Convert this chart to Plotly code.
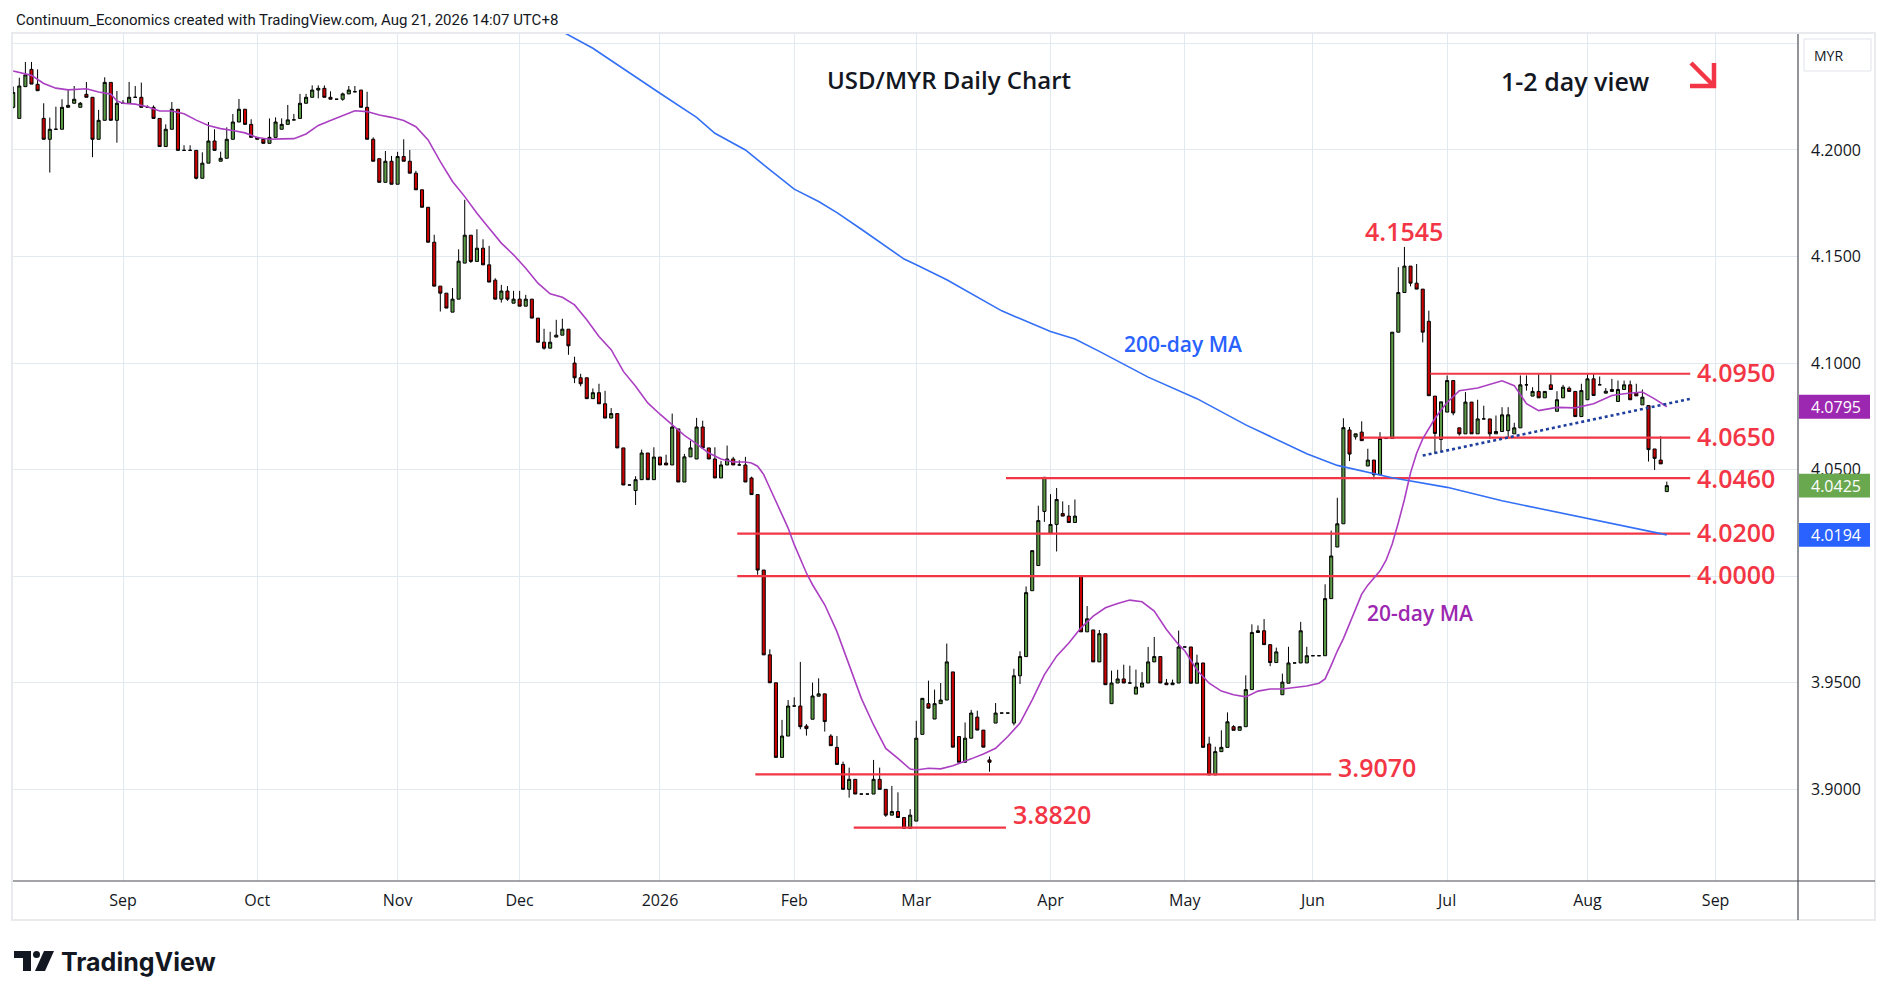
import plotly.graph_objects as go
import pandas as pd

# ---------------- DATA ----------------
# Daily OHLC rows: (date, open, high, low, close)
AUG_2025 = [
    ("2025-08-06", 4.2200, 4.2297, 4.2195, 4.2270), ("2025-08-07", 4.2148, 4.2339, 4.2148, 4.2300),
    ("2025-08-08", 4.2297, 4.2413, 4.2297, 4.2352), ("2025-08-11", 4.2378, 4.2413, 4.2309, 4.2309),
    ("2025-08-12", 4.2308, 4.2378, 4.2278, 4.2278), ("2025-08-13", 4.2148, 4.2219, 4.2050, 4.2050),
    ("2025-08-14", 4.2050, 4.2152, 4.1894, 4.2097), ("2025-08-15", 4.2097, 4.2203, 4.2097, 4.2097),
    ("2025-08-18", 4.2097, 4.2238, 4.2097, 4.2200), ("2025-08-19", 4.2200, 4.2281, 4.2200, 4.2209),
    ("2025-08-20", 4.2219, 4.2300, 4.2219, 4.2238), ("2025-08-21", 4.2200, 4.2225, 4.2200, 4.2219),
    ("2025-08-22", 4.2261, 4.2319, 4.2247, 4.2247), ("2025-08-25", 4.2247, 4.2247, 4.1966, 4.2050),
    ("2025-08-26", 4.2050, 4.2188, 4.2050, 4.2139), ("2025-08-27", 4.2139, 4.2341, 4.2139, 4.2317),
    ("2025-08-28", 4.2317, 4.2317, 4.2139, 4.2139), ("2025-08-29", 4.2139, 4.2277, 4.2034, 4.2219),
]
SEP_2025 = [
    ("2025-09-01", 4.2219, 4.2234, 4.2219, 4.2219), ("2025-09-02", 4.2219, 4.2319, 4.2219, 4.2247),
    ("2025-09-03", 4.2247, 4.2300, 4.2247, 4.2247), ("2025-09-04", 4.2247, 4.2316, 4.2200, 4.2200),
    ("2025-09-05", 4.2200, 4.2209, 4.2200, 4.2200), ("2025-09-08", 4.2200, 4.2209, 4.2148, 4.2148),
    ("2025-09-09", 4.2148, 4.2148, 4.2016, 4.2016), ("2025-09-10", 4.2016, 4.2120, 4.2016, 4.2097),
    ("2025-09-11", 4.2097, 4.2225, 4.2097, 4.2191), ("2025-09-12", 4.2191, 4.2191, 4.1998, 4.1998),
    ("2025-09-15", 4.1998, 4.2022, 4.1998, 4.1998), ("2025-09-16", 4.1998, 4.2022, 4.1998, 4.1998),
    ("2025-09-17", 4.1998, 4.1998, 4.1862, 4.1867), ("2025-09-18", 4.1867, 4.1989, 4.1867, 4.1938),
    ("2025-09-19", 4.1938, 4.2131, 4.1938, 4.2042), ("2025-09-22", 4.2042, 4.2097, 4.1998, 4.1998),
    ("2025-09-23", 4.1947, 4.1992, 4.1947, 4.1961), ("2025-09-24", 4.1961, 4.2106, 4.1961, 4.2050),
    ("2025-09-25", 4.2050, 4.2169, 4.2050, 4.2131), ("2025-09-26", 4.2131, 4.2239, 4.2131, 4.2191),
    ("2025-09-29", 4.2191, 4.2191, 4.2120, 4.2120), ("2025-09-30", 4.2120, 4.2144, 4.2059, 4.2059),
]
OCT_2025 = [
    ("2025-10-01", 4.2059, 4.2059, 4.2050, 4.2050), ("2025-10-02", 4.2050, 4.2050, 4.2031, 4.2031),
    ("2025-10-03", 4.2031, 4.2148, 4.2031, 4.2059), ("2025-10-06", 4.2059, 4.2153, 4.2059, 4.2131),
    ("2025-10-07", 4.2097, 4.2148, 4.2097, 4.2120), ("2025-10-08", 4.2120, 4.2211, 4.2120, 4.2141),
    ("2025-10-09", 4.2141, 4.2169, 4.2141, 4.2141), ("2025-10-10", 4.2148, 4.2263, 4.2148, 4.2219),
    ("2025-10-13", 4.2219, 4.2263, 4.2219, 4.2247), ("2025-10-14", 4.2247, 4.2303, 4.2247, 4.2281),
    ("2025-10-15", 4.2281, 4.2303, 4.2242, 4.2289), ("2025-10-16", 4.2289, 4.2303, 4.2247, 4.2247),
    ("2025-10-17", 4.2247, 4.2275, 4.2238, 4.2238), ("2025-10-20", 4.2238, 4.2238, 4.2238, 4.2238),
    ("2025-10-21", 4.2238, 4.2269, 4.2231, 4.2263), ("2025-10-22", 4.2263, 4.2300, 4.2263, 4.2281),
    ("2025-10-23", 4.2273, 4.2300, 4.2273, 4.2273), ("2025-10-24", 4.2281, 4.2281, 4.2200, 4.2200),
    ("2025-10-27", 4.2200, 4.2273, 4.2050, 4.2050), ("2025-10-28", 4.2050, 4.2059, 4.1947, 4.1947),
    ("2025-10-29", 4.1959, 4.1959, 4.1848, 4.1848), ("2025-10-30", 4.1848, 4.1995, 4.1848, 4.1947),
    ("2025-10-31", 4.1947, 4.1972, 4.1839, 4.1839),
]
NOV_2025 = [
    ("2025-11-03", 4.1839, 4.1991, 4.1839, 4.1969), ("2025-11-04", 4.1969, 4.2050, 4.1947, 4.1947),
    ("2025-11-05", 4.1947, 4.2000, 4.1891, 4.1891), ("2025-11-06", 4.1891, 4.1902, 4.1813, 4.1813),
    ("2025-11-07", 4.1813, 4.1813, 4.1731, 4.1731), ("2025-11-10", 4.1731, 4.1731, 4.1567, 4.1567),
    ("2025-11-11", 4.1567, 4.1602, 4.1361, 4.1361), ("2025-11-12", 4.1361, 4.1361, 4.1242, 4.1328),
    ("2025-11-13", 4.1328, 4.1328, 4.1258, 4.1258), ("2025-11-14", 4.1239, 4.1352, 4.1239, 4.1300),
    ("2025-11-17", 4.1300, 4.1534, 4.1300, 4.1478), ("2025-11-18", 4.1469, 4.1766, 4.1469, 4.1600),
    ("2025-11-19", 4.1600, 4.1600, 4.1470, 4.1477), ("2025-11-20", 4.1477, 4.1628, 4.1477, 4.1539),
    ("2025-11-21", 4.1539, 4.1581, 4.1461, 4.1461), ("2025-11-24", 4.1461, 4.1550, 4.1380, 4.1380),
    ("2025-11-25", 4.1389, 4.1398, 4.1300, 4.1300), ("2025-11-26", 4.1300, 4.1367, 4.1284, 4.1338),
    ("2025-11-27", 4.1338, 4.1361, 4.1292, 4.1300), ("2025-11-28", 4.1281, 4.1339, 4.1281, 4.1300),
]
DEC_2025 = [
    ("2025-12-01", 4.1300, 4.1339, 4.1267, 4.1267), ("2025-12-02", 4.1267, 4.1320, 4.1267, 4.1300),
    ("2025-12-03", 4.1300, 4.1300, 4.1211, 4.1211), ("2025-12-04", 4.1211, 4.1211, 4.1098, 4.1098),
    ("2025-12-05", 4.1098, 4.1161, 4.1063, 4.1070), ("2025-12-08", 4.1070, 4.1147, 4.1070, 4.1098),
    ("2025-12-09", 4.1122, 4.1203, 4.1122, 4.1131), ("2025-12-10", 4.1131, 4.1208, 4.1131, 4.1159),
    ("2025-12-11", 4.1159, 4.1159, 4.1039, 4.1081), ("2025-12-12", 4.1000, 4.1030, 4.0906, 4.0931),
    ("2025-12-15", 4.0931, 4.0950, 4.0891, 4.0903), ("2025-12-16", 4.0931, 4.0931, 4.0833, 4.0833),
    ("2025-12-17", 4.0833, 4.0881, 4.0833, 4.0861), ("2025-12-18", 4.0861, 4.0903, 4.0809, 4.0809),
    ("2025-12-19", 4.0809, 4.0870, 4.0742, 4.0742), ("2025-12-22", 4.0742, 4.0789, 4.0742, 4.0763),
    ("2025-12-23", 4.0763, 4.0763, 4.0602, 4.0602), ("2025-12-24", 4.0602, 4.0602, 4.0428, 4.0428),
    ("2025-12-25", 4.0428, 4.0428, 4.0428, 4.0428), ("2025-12-26", 4.0402, 4.0469, 4.0334, 4.0453),
    ("2025-12-29", 4.0453, 4.0594, 4.0453, 4.0578), ("2025-12-30", 4.0578, 4.0578, 4.0453, 4.0453),
    ("2025-12-31", 4.0453, 4.0605, 4.0453, 4.0559),
]
JAN_2026 = [
    ("2026-01-01", 4.0559, 4.0559, 4.0522, 4.0522), ("2026-01-02", 4.0531, 4.0570, 4.0522, 4.0522),
    ("2026-01-05", 4.0522, 4.0763, 4.0522, 4.0700), ("2026-01-06", 4.0691, 4.0691, 4.0442, 4.0442),
    ("2026-01-07", 4.0442, 4.0574, 4.0442, 4.0560), ("2026-01-08", 4.0560, 4.0636, 4.0560, 4.0602),
    ("2026-01-09", 4.0550, 4.0743, 4.0550, 4.0700), ("2026-01-12", 4.0700, 4.0730, 4.0602, 4.0602),
    ("2026-01-13", 4.0602, 4.0602, 4.0550, 4.0550), ("2026-01-14", 4.0550, 4.0605, 4.0461, 4.0461),
    ("2026-01-15", 4.0461, 4.0541, 4.0461, 4.0522), ("2026-01-16", 4.0522, 4.0613, 4.0522, 4.0550),
    ("2026-01-19", 4.0550, 4.0560, 4.0522, 4.0522), ("2026-01-20", 4.0522, 4.0544, 4.0522, 4.0522),
    ("2026-01-21", 4.0522, 4.0560, 4.0442, 4.0442), ("2026-01-22", 4.0461, 4.0467, 4.0383, 4.0383),
    ("2026-01-23", 4.0383, 4.0383, 4.0007, 4.0029), ("2026-01-26", 4.0029, 4.0029, 3.9631, 3.9631),
    ("2026-01-27", 3.9631, 3.9657, 3.9500, 3.9500), ("2026-01-28", 3.9500, 3.9500, 3.9150, 3.9150),
    ("2026-01-29", 3.9150, 3.9326, 3.9150, 3.9250), ("2026-01-30", 3.9250, 3.9419, 3.9250, 3.9391),
]
FEB_2026 = [
    ("2026-02-02", 3.9391, 3.9432, 3.9391, 3.9391), ("2026-02-03", 3.9391, 3.9598, 3.9282, 3.9294),
    ("2026-02-04", 3.9297, 3.9306, 3.9252, 3.9285), ("2026-02-05", 3.9329, 3.9501, 3.9329, 3.9438),
    ("2026-02-06", 3.9437, 3.9521, 3.9437, 3.9448), ("2026-02-09", 3.9448, 3.9448, 3.9271, 3.9318),
    ("2026-02-10", 3.9250, 3.9259, 3.9205, 3.9205), ("2026-02-11", 3.9197, 3.9250, 3.9117, 3.9117),
    ("2026-02-12", 3.9117, 3.9130, 3.9000, 3.9000), ("2026-02-13", 3.9000, 3.9102, 3.8961, 3.9047),
    ("2026-02-16", 3.9047, 3.9047, 3.8978, 3.8978), ("2026-02-17", 3.8978, 3.8978, 3.8978, 3.8978),
    ("2026-02-18", 3.8978, 3.8978, 3.8978, 3.8978), ("2026-02-19", 3.8978, 3.9138, 3.8978, 3.9047),
    ("2026-02-20", 3.9047, 3.9102, 3.9000, 3.9000), ("2026-02-23", 3.9000, 3.9000, 3.8871, 3.8879),
    ("2026-02-24", 3.8879, 3.9016, 3.8879, 3.8896), ("2026-02-25", 3.8896, 3.8986, 3.8868, 3.8868),
    ("2026-02-26", 3.8868, 3.8868, 3.8817, 3.8817), ("2026-02-27", 3.8817, 3.8907, 3.8817, 3.8879),
]
MAR_2026 = [
    ("2026-03-02", 3.8851, 3.9322, 3.8851, 3.9240), ("2026-03-03", 3.9258, 3.9428, 3.9258, 3.9427),
    ("2026-03-04", 3.9402, 3.9510, 3.9381, 3.9381), ("2026-03-05", 3.9330, 3.9468, 3.9330, 3.9402),
    ("2026-03-06", 3.9402, 3.9499, 3.9402, 3.9419), ("2026-03-09", 3.9419, 3.9684, 3.9419, 3.9598),
    ("2026-03-10", 3.9551, 3.9551, 3.9198, 3.9198), ("2026-03-11", 3.9248, 3.9248, 3.9127, 3.9127),
    ("2026-03-12", 3.9127, 3.9314, 3.9127, 3.9240), ("2026-03-13", 3.9240, 3.9373, 3.9240, 3.9358),
    ("2026-03-16", 3.9339, 3.9369, 3.9278, 3.9278), ("2026-03-17", 3.9278, 3.9278, 3.9198, 3.9198),
    ("2026-03-18", 3.9138, 3.9154, 3.9083, 3.9127), ("2026-03-19", 3.9311, 3.9405, 3.9311, 3.9358),
    ("2026-03-20", 3.9358, 3.9358, 3.9358, 3.9358), ("2026-03-23", 3.9358, 3.9358, 3.9358, 3.9358),
    ("2026-03-24", 3.9311, 3.9566, 3.9300, 3.9533), ("2026-03-25", 3.9533, 3.9648, 3.9494, 3.9623),
    ("2026-03-26", 3.9623, 3.9952, 3.9623, 3.9923), ("2026-03-27", 3.9932, 4.0120, 3.9932, 4.0120),
    ("2026-03-30", 4.0050, 4.0331, 4.0050, 4.0261), ("2026-03-31", 4.0304, 4.0464, 4.0255, 4.0464),
]
APR_2026 = [
    ("2026-04-01", 4.0202, 4.0385, 4.0202, 4.0243), ("2026-04-02", 4.0243, 4.0414, 4.0116, 4.0360),
    ("2026-04-03", 4.0294, 4.0351, 4.0282, 4.0282), ("2026-04-06", 4.0282, 4.0334, 4.0252, 4.0252),
    ("2026-04-07", 4.0252, 4.0360, 4.0252, 4.0282), ("2026-04-08", 4.0003, 4.0003, 3.9739, 3.9739),
    ("2026-04-09", 3.9739, 3.9860, 3.9739, 3.9800), ("2026-04-10", 3.9748, 3.9748, 3.9598, 3.9598),
    ("2026-04-13", 3.9598, 3.9748, 3.9598, 3.9730), ("2026-04-14", 3.9730, 3.9730, 3.9491, 3.9491),
    ("2026-04-15", 3.9402, 3.9557, 3.9402, 3.9499), ("2026-04-16", 3.9499, 3.9561, 3.9499, 3.9518),
    ("2026-04-17", 3.9518, 3.9585, 3.9499, 3.9499), ("2026-04-20", 3.9499, 3.9580, 3.9499, 3.9499),
    ("2026-04-21", 3.9447, 3.9562, 3.9447, 3.9480), ("2026-04-22", 3.9480, 3.9550, 3.9480, 3.9499),
    ("2026-04-23", 3.9499, 3.9668, 3.9499, 3.9598), ("2026-04-24", 3.9598, 3.9715, 3.9598, 3.9623),
    ("2026-04-27", 3.9623, 3.9623, 3.9499, 3.9499), ("2026-04-28", 3.9499, 3.9518, 3.9491, 3.9491),
    ("2026-04-29", 3.9491, 3.9515, 3.9491, 3.9499), ("2026-04-30", 3.9499, 3.9745, 3.9499, 3.9668),
]
MAY_2026 = [
    ("2026-05-01", 3.9668, 3.9668, 3.9668, 3.9668), ("2026-05-04", 3.9668, 3.9668, 3.9498, 3.9498),
    ("2026-05-05", 3.9498, 3.9632, 3.9498, 3.9593), ("2026-05-06", 3.9593, 3.9593, 3.9197, 3.9197),
    ("2026-05-07", 3.9213, 3.9247, 3.9068, 3.9068), ("2026-05-08", 3.9068, 3.9200, 3.9068, 3.9177),
    ("2026-05-11", 3.9177, 3.9277, 3.9177, 3.9197), ("2026-05-12", 3.9197, 3.9361, 3.9197, 3.9317),
    ("2026-05-13", 3.9294, 3.9301, 3.9277, 3.9277), ("2026-05-14", 3.9277, 3.9294, 3.9277, 3.9294),
    ("2026-05-15", 3.9294, 3.9535, 3.9294, 3.9468), ("2026-05-18", 3.9468, 3.9774, 3.9468, 3.9736),
    ("2026-05-19", 3.9736, 3.9769, 3.9736, 3.9744), ("2026-05-20", 3.9744, 3.9799, 3.9679, 3.9679),
    ("2026-05-21", 3.9679, 3.9679, 3.9578, 3.9595), ("2026-05-22", 3.9595, 3.9665, 3.9595, 3.9645),
    ("2026-05-25", 3.9444, 3.9543, 3.9444, 3.9503), ("2026-05-26", 3.9498, 3.9669, 3.9498, 3.9593),
    ("2026-05-27", 3.9593, 3.9593, 3.9593, 3.9593), ("2026-05-28", 3.9593, 3.9786, 3.9593, 3.9744),
    ("2026-05-29", 3.9593, 3.9669, 3.9593, 3.9627),
]
JUN_2026 = [
    ("2026-06-01", 3.9627, 3.9627, 3.9627, 3.9627), ("2026-06-02", 3.9627, 3.9627, 3.9627, 3.9627),
    ("2026-06-03", 3.9627, 3.9962, 3.9627, 3.9895), ("2026-06-04", 3.9895, 4.0214, 3.9895, 4.0095),
    ("2026-06-05", 4.0137, 4.0368, 4.0137, 4.0246), ("2026-06-08", 4.0246, 4.0741, 4.0246, 4.0697),
    ("2026-06-09", 4.0686, 4.0700, 4.0540, 4.0573), ("2026-06-10", 4.0654, 4.0668, 4.0641, 4.0668),
    ("2026-06-11", 4.0676, 4.0727, 4.0636, 4.0636), ("2026-06-12", 4.0517, 4.0598, 4.0517, 4.0545),
    ("2026-06-15", 4.0545, 4.0545, 4.0455, 4.0476), ("2026-06-16", 4.0476, 4.0676, 4.0476, 4.0646),
    ("2026-06-17", 4.0646, 4.0646, 4.0646, 4.0646), ("2026-06-18", 4.0646, 4.1145, 4.0646, 4.1145),
    ("2026-06-19", 4.1145, 4.1450, 4.1145, 4.1331), ("2026-06-22", 4.1331, 4.1545, 4.1331, 4.1455),
    ("2026-06-23", 4.1455, 4.1455, 4.1360, 4.1375), ("2026-06-24", 4.1375, 4.1465, 4.1347, 4.1347),
    ("2026-06-25", 4.1347, 4.1347, 4.1097, 4.1145), ("2026-06-26", 4.1196, 4.1246, 4.0847, 4.0847),
    ("2026-06-29", 4.0845, 4.0845, 4.0575, 4.0670), ("2026-06-30", 4.0642, 4.0818, 4.0581, 4.0818),
]
JUL_2026 = [
    ("2026-07-01", 4.0770, 4.0942, 4.0770, 4.0918), ("2026-07-02", 4.0918, 4.0918, 4.0755, 4.0766),
    ("2026-07-03", 4.0696, 4.0696, 4.0660, 4.0668), ("2026-07-06", 4.0668, 4.0864, 4.0668, 4.0817),
    ("2026-07-07", 4.0817, 4.0817, 4.0668, 4.0668), ("2026-07-08", 4.0668, 4.0828, 4.0668, 4.0738),
    ("2026-07-09", 4.0738, 4.0800, 4.0738, 4.0738), ("2026-07-10", 4.0738, 4.0738, 4.0644, 4.0668),
    ("2026-07-13", 4.0668, 4.0754, 4.0668, 4.0679), ("2026-07-14", 4.0679, 4.0793, 4.0679, 4.0757),
    ("2026-07-15", 4.0683, 4.0793, 4.0652, 4.0757), ("2026-07-16", 4.0668, 4.0720, 4.0668, 4.0696),
    ("2026-07-17", 4.0696, 4.0942, 4.0696, 4.0898), ("2026-07-20", 4.0898, 4.0942, 4.0871, 4.0898),
    ("2026-07-21", 4.0845, 4.0887, 4.0845, 4.0867), ("2026-07-22", 4.0867, 4.0947, 4.0837, 4.0837),
    ("2026-07-23", 4.0837, 4.0867, 4.0837, 4.0867), ("2026-07-24", 4.0898, 4.0947, 4.0876, 4.0876),
    ("2026-07-27", 4.0774, 4.0868, 4.0774, 4.0828), ("2026-07-28", 4.0837, 4.0898, 4.0837, 4.0887),
    ("2026-07-29", 4.0882, 4.0890, 4.0867, 4.0867), ("2026-07-30", 4.0867, 4.0867, 4.0749, 4.0749),
    ("2026-07-31", 4.0749, 4.0903, 4.0749, 4.0871),
]
AUG_2026 = [
    ("2026-08-03", 4.0828, 4.0947, 4.0828, 4.0926), ("2026-08-04", 4.0926, 4.0953, 4.0848, 4.0848),
    ("2026-08-05", 4.0898, 4.0937, 4.0898, 4.0898), ("2026-08-06", 4.0859, 4.0883, 4.0859, 4.0868),
    ("2026-08-07", 4.0867, 4.0926, 4.0867, 4.0876), ("2026-08-10", 4.0820, 4.0918, 4.0820, 4.0876),
    ("2026-08-11", 4.0876, 4.0918, 4.0876, 4.0898), ("2026-08-12", 4.0898, 4.0918, 4.0828, 4.0828),
    ("2026-08-13", 4.0859, 4.0903, 4.0846, 4.0846), ("2026-08-14", 4.0804, 4.0876, 4.0804, 4.0840),
    ("2026-08-17", 4.0801, 4.0801, 4.0538, 4.0594), ("2026-08-18", 4.0597, 4.0597, 4.0498, 4.0553),
    ("2026-08-19", 4.0545, 4.0657, 4.0527, 4.0527), ("2026-08-20", 4.0397, 4.0444, 4.0397, 4.0425),
]

# 20-day moving average
MA20_DATES = [
    "2025-08-06", "2025-08-11", "2025-08-13", "2025-08-15", "2025-08-19", "2025-08-22", "2025-08-26",
    "2025-08-28", "2025-08-29", "2025-09-01", "2025-09-03", "2025-09-05", "2025-09-09", "2025-09-11",
    "2025-09-15", "2025-09-17", "2025-09-19", "2025-09-23", "2025-09-25", "2025-09-29", "2025-10-01",
    "2025-10-03", "2025-10-07", "2025-10-09", "2025-10-13", "2025-10-15", "2025-10-17", "2025-10-21",
    "2025-10-23", "2025-10-27", "2025-10-29", "2025-10-31", "2025-11-04", "2025-11-06", "2025-11-10",
    "2025-11-12", "2025-11-14", "2025-11-18", "2025-11-20", "2025-11-24", "2025-11-26", "2025-11-28",
    "2025-12-02", "2025-12-04", "2025-12-08", "2025-12-10", "2025-12-12", "2025-12-16", "2025-12-18",
    "2025-12-22", "2025-12-24", "2025-12-26", "2025-12-30", "2026-01-01", "2026-01-05", "2026-01-07",
    "2026-01-09", "2026-01-13", "2026-01-15", "2026-01-19", "2026-01-21", "2026-01-22", "2026-01-23",
    "2026-01-26", "2026-01-27", "2026-01-28", "2026-01-29", "2026-01-30", "2026-02-02", "2026-02-03",
    "2026-02-04", "2026-02-05", "2026-02-09", "2026-02-11", "2026-02-13", "2026-02-17", "2026-02-19",
    "2026-02-23", "2026-02-25", "2026-02-27", "2026-03-02", "2026-03-04", "2026-03-06", "2026-03-10",
    "2026-03-13", "2026-03-17", "2026-03-19", "2026-03-23", "2026-03-25", "2026-03-27", "2026-03-31",
    "2026-04-02", "2026-04-06", "2026-04-08", "2026-04-10", "2026-04-14", "2026-04-16", "2026-04-20",
    "2026-04-22", "2026-04-24", "2026-04-28", "2026-04-30", "2026-05-01", "2026-05-05", "2026-05-07",
    "2026-05-11", "2026-05-13", "2026-05-15", "2026-05-19", "2026-05-21", "2026-05-25", "2026-05-27",
    "2026-05-29", "2026-06-02", "2026-06-03", "2026-06-04", "2026-06-05", "2026-06-08", "2026-06-09",
    "2026-06-10", "2026-06-11", "2026-06-12", "2026-06-15", "2026-06-16", "2026-06-17", "2026-06-18",
    "2026-06-19", "2026-06-22", "2026-06-23", "2026-06-24", "2026-06-25", "2026-06-26", "2026-06-29",
    "2026-06-30", "2026-07-01", "2026-07-03", "2026-07-08", "2026-07-14", "2026-07-16", "2026-07-20",
    "2026-07-22", "2026-07-27", "2026-07-30", "2026-08-04", "2026-08-07", "2026-08-11", "2026-08-14",
    "2026-08-18", "2026-08-20",
]
MA20_VALUES = [
    4.2370, 4.2350, 4.2312, 4.2290, 4.2282, 4.2287, 4.2272,
    4.2262, 4.2230, 4.2219, 4.2215, 4.2203, 4.2183, 4.2183,
    4.2170, 4.2140, 4.2115, 4.2100, 4.2091, 4.2080, 4.2058,
    4.2050, 4.2052, 4.2053, 4.2075, 4.2115, 4.2138, 4.2160,
    4.2184, 4.2180, 4.2164, 4.2153, 4.2138, 4.2109, 4.2047,
    4.1945, 4.1852, 4.1781, 4.1703, 4.1633, 4.1563, 4.1508,
    4.1445, 4.1375, 4.1325, 4.1309, 4.1273, 4.1203, 4.1125,
    4.1063, 4.0961, 4.0891, 4.0813, 4.0760, 4.0711, 4.0661,
    4.0621, 4.0578, 4.0550, 4.0536, 4.0536, 4.0531, 4.0516,
    4.0477, 4.0414, 4.0351, 4.0289, 4.0226, 4.0148, 4.0077,
    4.0015, 3.9960, 3.9866, 3.9740, 3.9584, 3.9427, 3.9302,
    3.9192, 3.9145, 3.9095, 3.9091, 3.9099, 3.9096, 3.9111,
    3.9143, 3.9166, 3.9193, 3.9248, 3.9311, 3.9420, 3.9538,
    3.9625, 3.9687, 3.9758, 3.9813, 3.9852, 3.9872, 3.9888,
    3.9880, 3.9836, 3.9750, 3.9679, 3.9650, 3.9560, 3.9498,
    3.9461, 3.9444, 3.9434, 3.9461, 3.9471, 3.9471, 3.9478,
    3.9485, 3.9498, 3.9518, 3.9582, 3.9649, 3.9707, 3.9774,
    3.9841, 3.9916, 3.9958, 3.9992, 4.0025, 4.0075, 4.0151,
    4.0251, 4.0360, 4.0485, 4.0577, 4.0644, 4.0695, 4.0740,
    4.0780, 4.0815, 4.0870, 4.0883, 4.0917, 4.0894, 4.0810,
    4.0777, 4.0792, 4.0790, 4.0809, 4.0848, 4.0856, 4.0864,
    4.0832, 4.0795,
]

# 200-day moving average
MA200_DATES = [
    "2025-12-10", "2025-12-17", "2026-01-01", "2026-01-09", "2026-01-14", "2026-01-21", "2026-01-26",
    "2026-02-02", "2026-02-06", "2026-02-11", "2026-02-17", "2026-02-26", "2026-03-02", "2026-03-09",
    "2026-03-20", "2026-04-01", "2026-04-07", "2026-04-13", "2026-04-23", "2026-05-05", "2026-05-15",
    "2026-05-29", "2026-06-05", "2026-06-18", "2026-07-01", "2026-07-14", "2026-08-20",
]
MA200_VALUES = [
    4.2555, 4.2477, 4.2266, 4.2153, 4.2078, 4.2000, 4.1930,
    4.1816, 4.1758, 4.1706, 4.1628, 4.1488, 4.1461, 4.1391,
    4.1245, 4.1148, 4.1113, 4.1055, 4.0934, 4.0833, 4.0710,
    4.0575, 4.0520, 4.0462, 4.0417, 4.0354, 4.0194,
]

# Horizontal support / resistance levels
LEVEL_VALUES = [4.0950, 4.0650, 4.0460, 4.0200, 4.0000, 3.9070, 3.8820]
LEVEL_LABELS = ["4.0950", "4.0650", "4.0460", "4.0200", "4.0000", "3.9070", "3.8820"]
LEVEL_START = ["2026-06-26 18:00", "2026-06-11 14:00", "2026-03-23 05:00", "2026-01-20 04:00",
               "2026-01-20 04:00", "2026-01-23 03:00", "2026-02-16 06:00"]
LEVEL_END = ["2026-08-26 08:00", "2026-08-26 08:00", "2026-08-26 08:00", "2026-08-26 08:00",
             "2026-08-26 08:00", "2026-06-04 12:00", "2026-03-23 05:00"]

PEAK_DATE = "2026-06-22"
PEAK_VALUE = 4.1545

# Dotted rising trend line
TREND_DATES = ["2026-06-25 12:00", "2026-08-26 08:00"]
TREND_VALUES = [4.0566, 4.0832]

# Axis ticks
MONTH_TICKS = ["2025-09-01", "2025-10-01", "2025-11-03", "2025-12-01", "2026-01-01", "2026-02-02",
               "2026-03-02", "2026-04-01", "2026-05-01", "2026-06-01", "2026-07-01", "2026-08-03",
               "2026-09-01"]
MONTH_LABELS = ["Sep", "Oct", "Nov", "Dec", "2026", "Feb", "Mar", "Apr", "May", "Jun", "Jul", "Aug", "Sep"]
PRICE_TICKS = [3.90, 3.95, 4.00, 4.05, 4.10, 4.15, 4.20, 4.25]
PRICE_LABELS = ["3.9000", "3.9500", "", "4.0500", "4.1000", "4.1500", "4.2000", ""]

LAST_CLOSE = 4.0425
LAST_MA20 = 4.0795
LAST_MA200 = 4.0194

# ---------------- FIGURE ----------------
W, H = 1888, 996
ML, MR, MT, MB = 13, 90, 34, 115
PW, PH = W - ML - MR, H - MT - MB


def px(x):
    return (x - ML) / PW


def py(y):
    return (H - MB - y) / PH


NOON = pd.Timedelta(hours=12)
rows = AUG_2025 + SEP_2025 + OCT_2025 + NOV_2025 + DEC_2025 + JAN_2026 + FEB_2026 + \
    MAR_2026 + APR_2026 + MAY_2026 + JUN_2026 + JUL_2026 + AUG_2026
df = pd.DataFrame(rows, columns=["date", "open", "high", "low", "close"])
df["x"] = pd.to_datetime(df["date"]) + NOON

RED = "#f23645"
UP = "#5b9a45"
DOWN = "#cc0000"
BADGE_GREEN = "#6aa84f"
PURPLE_LINE = "#ab3fc2"
PURPLE = "#9c27b0"
BLUE = "#2962ff"
TEXT = "#131722"
GRID = "#e3e9f0"

fig = go.Figure()

# level lines
for val, s, e in zip(LEVEL_VALUES, LEVEL_START, LEVEL_END):
    fig.add_trace(go.Scatter(x=[pd.Timestamp(s), pd.Timestamp(e)], y=[val, val], mode="lines",
                             line=dict(color=RED, width=2.2), hoverinfo="skip", showlegend=False))

fig.add_trace(go.Candlestick(
    x=df["x"], open=df["open"], high=df["high"], low=df["low"], close=df["close"],
    increasing=dict(line=dict(color="#000000", width=1), fillcolor=UP),
    decreasing=dict(line=dict(color="#000000", width=1), fillcolor=DOWN),
    whiskerwidth=0, hoverinfo="skip", showlegend=False))

fig.add_trace(go.Scatter(x=pd.to_datetime(MA200_DATES) + NOON, y=MA200_VALUES, mode="lines",
                         line=dict(color="#3370f5", width=1.6), hoverinfo="skip", showlegend=False))
fig.add_trace(go.Scatter(x=pd.to_datetime(MA20_DATES) + NOON, y=MA20_VALUES, mode="lines",
                         line=dict(color=PURPLE_LINE, width=1.6), hoverinfo="skip", showlegend=False))
fig.add_trace(go.Scatter(x=pd.to_datetime(TREND_DATES), y=TREND_VALUES, mode="lines",
                         line=dict(color="#1f3f9e", width=2.6, dash="dot"), hoverinfo="skip",
                         showlegend=False))

ann = []
DRAW_FONT = "Open Sans"
# header
ann.append(dict(text="Continuum_Economics created with TradingView.com, Aug 21, 2026 14:07 UTC+8",
                x=px(14), y=py(20), xref="paper", yref="paper", xanchor="left", yanchor="middle",
                showarrow=False, font=dict(family="Roboto", size=15, color=TEXT)))
ann.append(dict(text="USD/MYR Daily Chart", x=px(949), y=py(80), xref="paper", yref="paper",
                xanchor="center", yanchor="middle", showarrow=False,
                font=dict(family=DRAW_FONT, size=24, color=TEXT, weight=600)))
ann.append(dict(text="1-2 day view", x=px(1575), y=py(81), xref="paper", yref="paper",
                xanchor="center", yanchor="middle", showarrow=False,
                font=dict(family=DRAW_FONT, size=25, color=TEXT, weight=600)))
ann.append(dict(text="200-day MA", x=px(1183), y=py(344), xref="paper", yref="paper",
                xanchor="center", yanchor="middle", showarrow=False,
                font=dict(family=DRAW_FONT, size=21, color=BLUE, weight=600)))
ann.append(dict(text="20-day MA", x=px(1420), y=py(613), xref="paper", yref="paper",
                xanchor="center", yanchor="middle", showarrow=False,
                font=dict(family=DRAW_FONT, size=21, color=PURPLE, weight=600)))
# level labels
label_pos = {"4.0950": (1695, 2), "4.0650": (1695, 2), "4.0460": (1695, 0), "4.0200": (1695, 2),
             "4.0000": (1695, 2), "3.9070": (1336, 7), "3.8820": (1011, 14)}
for val, lab in zip(LEVEL_VALUES, LEVEL_LABELS):
    xp, sh = label_pos[lab]
    ann.append(dict(text=lab, x=px(xp), y=val, xref="paper", yref="y", xanchor="left",
                    yanchor="middle", yshift=sh, showarrow=False,
                    font=dict(family=DRAW_FONT, size=25, color=RED, weight=600)))
ann.append(dict(text=f"{PEAK_VALUE:.4f}", x=pd.Timestamp(PEAK_DATE) + NOON, y=PEAK_VALUE, xref="x", yref="y",
                xanchor="center", yanchor="middle", yshift=16, showarrow=False,
                font=dict(family=DRAW_FONT, size=25, color=RED, weight=600)))

shapes = []
# price badges
for val, col in [(LAST_MA20, PURPLE), (LAST_CLOSE, BADGE_GREEN), (LAST_MA200, BLUE)]:
    shapes.append(dict(type="rect", xref="paper", yref="y", x0=px(1799), x1=px(1870),
                       y0=val - 0.0056, y1=val + 0.0056, fillcolor=col, line=dict(width=0),
                       layer="above"))
    ann.append(dict(text=f"{val:.4f}", x=px(1836), y=val, xref="paper", yref="y", xanchor="center",
                    yanchor="middle", showarrow=False,
                    font=dict(family=DRAW_FONT, size=16, color="#ffffff")))

# frame and axis lines
shapes.append(dict(type="rect", xref="paper", yref="paper", x0=px(12), x1=px(1875), y0=py(920), y1=py(33),
                   line=dict(color="#e8eaee", width=2), layer="above"))
shapes.append(dict(type="line", xref="paper", yref="paper", x0=px(1798), x1=px(1798), y0=py(34), y1=py(920),
                   line=dict(color="#4a4d55", width=1.2), layer="above"))
shapes.append(dict(type="line", xref="paper", yref="paper", x0=px(13), x1=px(1875), y0=py(881), y1=py(881),
                   line=dict(color="#4a4d55", width=1.2), layer="above"))
# MYR box
shapes.append(dict(type="rect", xref="paper", yref="paper", x0=px(1804), x1=px(1871), y0=py(71), y1=py(39),
                   line=dict(color="#e0e3eb", width=1), fillcolor="#ffffff", layer="above"))
ann.append(dict(text="MYR", x=px(1828), y=py(55), xref="paper", yref="paper", xanchor="center",
                yanchor="middle", showarrow=False, font=dict(family=DRAW_FONT, size=14, color=TEXT)))


def path_px(points, close=False):
    s = "M " + " L ".join(f"{px(a):.5f},{py(b):.5f}" for a, b in points)
    return s + (" Z" if close else "")


# red arrow
shapes.append(dict(type="path", xref="paper", yref="paper", path=path_px([(1691, 63), (1712, 84)]),
                   line=dict(color=RED, width=4.5), layer="above"))
shapes.append(dict(type="path", xref="paper", yref="paper",
                   path=path_px([(1714, 63), (1714, 86), (1690, 86)]),
                   line=dict(color=RED, width=4.5), layer="above"))

# TradingView logo
shapes.append(dict(type="path", xref="paper", yref="paper",
                   path=path_px([(14, 951), (31, 951), (31, 971), (23, 971), (23, 958), (14, 958)], True),
                   fillcolor=TEXT, line=dict(width=0), layer="above"))
shapes.append(dict(type="circle", xref="paper", yref="paper", x0=px(33), x1=px(40), y0=py(958), y1=py(951),
                   fillcolor=TEXT, line=dict(width=0), layer="above"))
shapes.append(dict(type="path", xref="paper", yref="paper",
                   path=path_px([(44, 951), (54, 951), (45, 971), (35, 971)], True),
                   fillcolor=TEXT, line=dict(width=0), layer="above"))
ann.append(dict(text="<b>TradingView</b>", x=px(59), y=py(962), xref="paper", yref="paper",
                xanchor="left", yanchor="middle", showarrow=False,
                font=dict(family="Inter", size=25, color=TEXT)))

fig.update_layout(
    width=W, height=H, autosize=False,
    margin=dict(l=ML, r=MR, t=MT, b=MB, pad=0),
    paper_bgcolor="#ffffff", plot_bgcolor="#ffffff",
    showlegend=False, hovermode=False,
    annotations=ann, shapes=shapes,
    boxgap=0.28,
)
fig.update_xaxes(
    type="date",
    range=[pd.Timestamp("2025-08-06 11:17"), pd.Timestamp("2026-09-18 23:59:59")],
    rangebreaks=[dict(bounds=["sat", "mon"])],
    rangeslider=dict(visible=False),
    tickvals=pd.to_datetime(MONTH_TICKS) + NOON, ticktext=MONTH_LABELS,
    showgrid=True, gridcolor=GRID, gridwidth=1,
    showline=False, zeroline=False, ticks="",
    ticklabelstandoff=8,
    tickfont=dict(family=DRAW_FONT, size=16, color=TEXT),
)
fig.update_yaxes(
    range=[3.8570, 4.2544], side="right",
    tickvals=PRICE_TICKS, ticktext=PRICE_LABELS,
    showgrid=True, gridcolor=GRID, gridwidth=1,
    showline=False, zeroline=False, ticks="",
    ticklabelstandoff=12,
    tickfont=dict(family=DRAW_FONT, size=16, color=TEXT),
)

fig.write_html("out.html", config={"displayModeBar": False, "staticPlot": True},
               post_script="document.body.style.margin='0';document.body.style.overflow='hidden';")
